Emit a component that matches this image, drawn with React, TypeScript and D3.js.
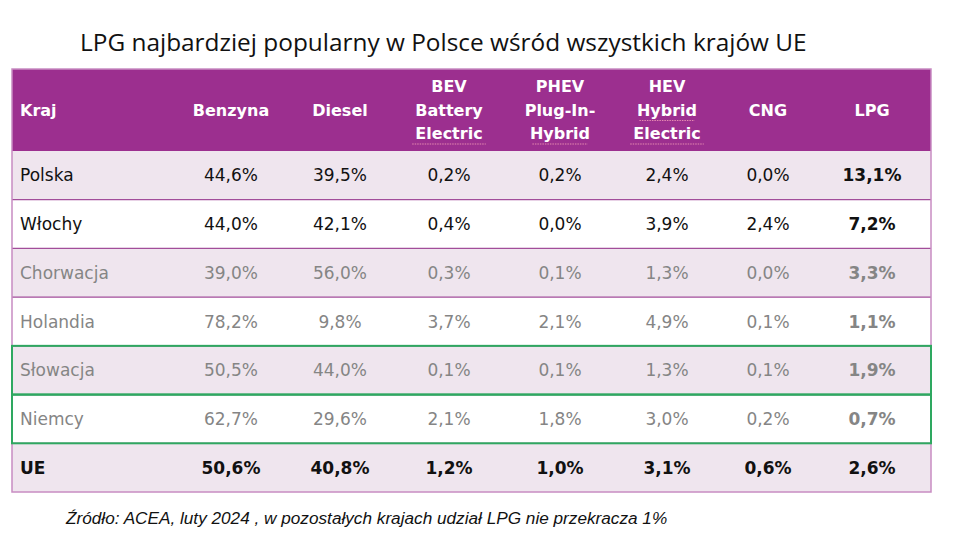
import React from "react";
import * as d3 from "d3";

const title = "LPG najbardziej popularny w Polsce wśród wszystkich krajów UE";
const source = "Źródło: ACEA, luty 2024 , w pozostałych krajach udział LPG nie przekracza 1%";

const headers: string[][] = [
  ["Kraj"],
  ["Benzyna"],
  ["Diesel"],
  ["BEV", "Battery", "Electric"],
  ["PHEV", "Plug-In-", "Hybrid"],
  ["HEV", "Hybrid", "Electric"],
  ["CNG"],
  ["LPG"],
];
const countries = ["Polska", "Włochy", "Chorwacja", "Holandia", "Słowacja", "Niemcy", "UE"];
const benzyna = [44.6, 44.0, 39.0, 78.2, 50.5, 62.7, 50.6];
const diesel = [39.5, 42.1, 56.0, 9.8, 44.0, 29.6, 40.8];
const bev = [0.2, 0.4, 0.3, 3.7, 0.1, 2.1, 1.2];
const phev = [0.2, 0.0, 0.1, 2.1, 0.1, 1.8, 1.0];
const hev = [2.4, 3.9, 1.3, 4.9, 1.3, 3.0, 3.1];
const cng = [0.0, 2.4, 0.0, 0.1, 0.1, 0.2, 0.6];
const lpg = [13.1, 7.2, 3.3, 1.1, 1.9, 0.7, 2.6];
const highlighted = ["Słowacja", "Niemcy"];
const grayRows = ["Chorwacja", "Holandia", "Słowacja", "Niemcy"];

// layout
const W = 956, H = 556;
const left = 12, right = 931;
const headTop = 69, headBottom = 151, tableBottom = 492;
const colCenters = [0, 231, 340, 449, 560, 667, 768, 872];
const squiggles: [number, number][] = [[3, 2], [4, 2], [5, 1], [5, 2]];

const PURPLE = "#9c2f8f";
const LAV = "#efe5ee";
const FONT = "'DejaVu Sans', Verdana, sans-serif";

const fmt = (v: number) => v.toFixed(1).replace(".", ",") + "%";

export default function App() {
  const y = d3.scaleBand<string>().domain(countries).range([headBottom, tableBottom]);
  const series = [benzyna, diesel, bev, phev, hev, cng, lpg];
  const lineH = 23.5;
  const headMid = (headTop + headBottom) / 2;

  return (
    <svg width={W} height={H} style={{ position: "absolute", left: 0, top: 0, background: "#fff" }}>
      <text x={80} y={51} fontFamily="'Open Sans', sans-serif" fontSize={24.4} fill="#111">{title}</text>

      {/* header */}
      <rect x={left} y={headTop} width={right - left} height={headBottom - headTop} fill={PURPLE} />
      {headers.map((h, i) => (
        <g key={i}>
          {h.map((line, j) => (
            <text
              key={j}
              x={i === 0 ? 20 : colCenters[i]}
              y={headMid + (j - (h.length - 1) / 2) * lineH}
              textAnchor={i === 0 ? "start" : "middle"}
              dominantBaseline="central"
              fontFamily={FONT}
              fontWeight="bold"
              fontSize={16}
              fill="#fff"
            >
              {line}
            </text>
          ))}
        </g>
      ))}
      {squiggles.map(([c, j], k) => {
        const h = headers[c];
        const yy = headMid + (j - (h.length - 1) / 2) * lineH + 10.5;
        const w = h[j].length * 9.2;
        return (
          <line key={k} x1={colCenters[c] - w / 2} x2={colCenters[c] + w / 2} y1={yy} y2={yy}
            stroke="#e58ab0" strokeWidth={1.2} strokeDasharray="1.5 1" />
        );
      })}

      {/* rows */}
      {countries.map((c, r) => {
        const y0 = y(c)!;
        const bw = y.bandwidth();
        const cy = y0 + bw / 2;
        const isUE = c === "UE";
        const gray = grayRows.includes(c);
        const color = gray ? "#858585" : "#111";
        return (
          <g key={c}>
            <rect x={left} y={y0} width={right - left} height={bw} fill={r % 2 === 0 ? LAV : "#fff"} />
            <text x={20} y={cy} dominantBaseline="central" fontFamily={FONT} fontSize={17}
              fontWeight={isUE ? "bold" : "normal"} fill={color}>{c}</text>
            {series.map((s, i) => (
              <text key={i} x={colCenters[i + 1]} y={cy} textAnchor="middle" dominantBaseline="central"
                fontFamily={FONT} fontSize={17}
                fontWeight={isUE || i === series.length - 1 ? "bold" : "normal"} fill={color}>
                {fmt(s[r])}
              </text>
            ))}
          </g>
        );
      })}
      {/* row dividers */}
      {countries.slice(1).map((c) => (
        <line key={c} x1={left} x2={right} y1={y(c)} y2={y(c)} stroke="#a24d9a" strokeWidth={1.2} />
      ))}
      {/* outer border */}
      <rect x={left} y={headTop} width={right - left} height={tableBottom - headTop} fill="none" stroke="#c88cc2" strokeWidth={1.5} />
      {/* green highlight */}
      {highlighted.map((c) => (
        <rect key={c} x={left} y={y(c)} width={right - left} height={y.bandwidth()} fill="none" stroke="#2ea860" strokeWidth={2} />
      ))}

      <text x={66} y={524} fontFamily="'Liberation Sans Narrow', 'Liberation Sans', sans-serif" fontStyle="italic" fontSize={17.2} fill="#111">{source}</text>
    </svg>
  );
}
